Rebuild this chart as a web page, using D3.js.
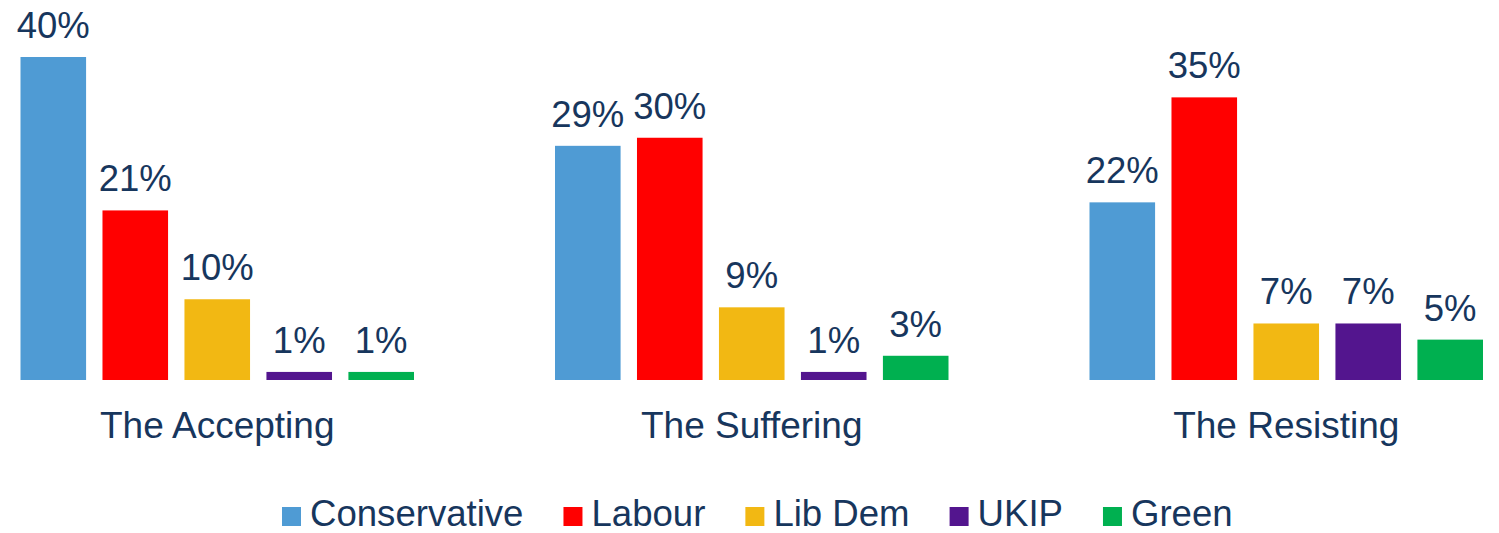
<!DOCTYPE html>
<html>
<head>
<meta charset="utf-8">
<script src="https://cdn.jsdelivr.net/npm/d3@7"></script>
<style>
  html, body { margin: 0; padding: 0; background: #ffffff; }
  svg { display: block; }
  text { font-family: "Liberation Sans", Arial, sans-serif; fill: #17365D; }
</style>
</head>
<body>
<svg id="chart" width="1499" height="533"></svg>
<script>
const groups = ["The Accepting", "The Suffering", "The Resisting"];
const parties = ["Conservative", "Labour", "Lib Dem", "UKIP", "Green"];
const partyColors = ["#4F9BD4", "#FF0000", "#F2B813", "#53158E", "#00B050"];
const conservative = [40, 29, 22];
const labour = [21, 30, 35];
const libDem = [10, 9, 7];
const ukip = [1, 1, 7];
const green = [1, 3, 5];

const seriesValues = [conservative, labour, libDem, ukip, green];
const data = [];
groups.forEach((g, gi) => {
  parties.forEach((p, pi) => {
    data.push({ group: g, party: p, value: seriesValues[pi][gi] });
  });
});

const svg = d3.select("#chart");

const x0 = d3.scaleBand().domain(groups).range([-50, 1553.5]).paddingInner(0).paddingOuter(0);
const x1 = d3.scaleBand().domain(parties).range([0, x0.bandwidth()]).paddingInner(0.2).paddingOuter(0.86);
const y = d3.scaleLinear().domain([0, 40]).range([380, 57]);
const color = d3.scaleOrdinal().domain(parties).range(partyColors);

const g = svg.append("g");

g.selectAll("rect.bar")
  .data(data)
  .join("rect")
  .attr("class", "bar")
  .attr("x", d => x0(d.group) + x1(d.party))
  .attr("y", d => y(d.value))
  .attr("width", x1.bandwidth())
  .attr("height", d => y(0) - y(d.value))
  .attr("fill", d => color(d.party));

g.selectAll("text.val")
  .data(data)
  .join("text")
  .attr("class", "val")
  .attr("x", d => x0(d.group) + x1(d.party) + x1.bandwidth() / 2)
  .attr("y", d => y(d.value) - 19)
  .attr("text-anchor", "middle")
  .style("font-size", "36.5px")
  .text(d => d.value + "%");

// category axis labels
const xAxis = d3.axisBottom(x0).tickSize(0).tickPadding(0);
const axisG = svg.append("g").attr("transform", `translate(0, ${y(0)})`).call(xAxis);
axisG.select(".domain").remove();
axisG.selectAll(".tick text")
  .attr("y", 58)
  .attr("dy", null)
  .style("font-size", "37px")
  .style("font-family", "'Liberation Sans', Arial, sans-serif")
  .attr("fill", "#17365D");

// legend
const legend = svg.append("g").attr("class", "legend");
let lx = 282;
parties.forEach((p, i) => {
  const item = legend.append("g");
  item.append("rect")
    .attr("x", lx).attr("y", 507)
    .attr("width", 19).attr("height", 19)
    .attr("fill", color(p));
  const t = item.append("text")
    .attr("x", lx + 28).attr("y", 526)
    .style("font-size", "36.6px")
    .text(p);
  const w = t.node().getComputedTextLength();
  lx = lx + 28 + w + 40;
});
</script>
</body>
</html>
